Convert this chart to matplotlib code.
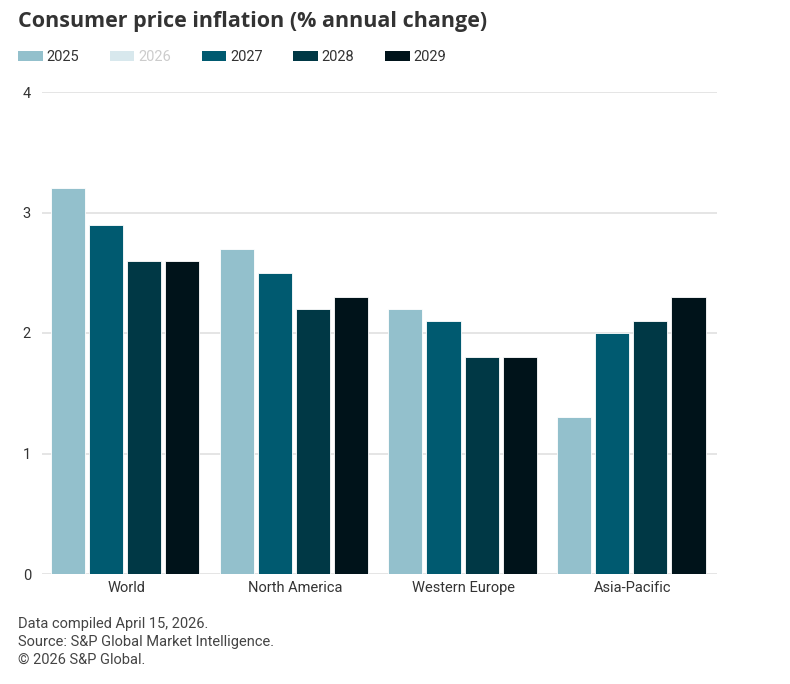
import matplotlib.pyplot as plt
import numpy as np
from matplotlib.patches import Patch

plt.rcParams['font.family'] = ['Roboto', 'DejaVu Sans']

# data
regions = ['World', 'North America', 'Western Europe', 'Asia-Pacific']
years = ['2025', '2026', '2027', '2028', '2029']
v2025 = [3.2, 2.7, 2.2, 1.3]
v2027 = [2.9, 2.5, 2.1, 2.0]
v2028 = [2.6, 2.2, 1.8, 2.1]
v2029 = [2.6, 2.3, 1.8, 2.3]
colors = ['#93c0cc', '#d8e8ed', '#005a70', '#003845', '#00131a']

shown = [(v2025, colors[0]), (v2027, colors[2]), (v2028, colors[3]), (v2029, colors[4])]

fig = plt.figure(figsize=(7.9, 6.84), dpi=100)
ax = fig.add_axes([42 / 790, 1 - 574 / 684, 675 / 790, 482 / 684])

x = np.arange(len(regions))
step = 0.226
for i, (vals, c) in enumerate(shown):
    ax.bar(x + (i - 1.5) * step - 0.008, vals, width=0.202, color=c,
           edgecolor='white', linewidth=0.6, zorder=3)

ax.set_xlim(-0.5, 3.5)
ax.set_ylim(0, 4)
ax.set_yticks([0, 1, 2, 3, 4])
ax.set_xticks(x)
ax.set_xticklabels(regions)
ax.grid(axis='y', color='#e0e0e0', linewidth=1.2, zorder=0)
for s in ax.spines.values():
    s.set_visible(False)
ax.tick_params(axis='both', length=0, labelsize=10.5, colors='#333333')
ax.tick_params(axis='y', pad=8)
ax.tick_params(axis='x', pad=5)

fig.text(18 / 790, 1 - 21 / 684, 'Consumer price inflation (% annual change)',
         fontsize=15.5, fontweight='bold', color='#333333', va='center',
         family=['Open Sans', 'DejaVu Sans'])

# legend
handles = [Patch(facecolor=c, edgecolor='none') for c in colors]
leg = fig.legend(handles, years, ncol=5, loc='center left',
                 bbox_to_anchor=(18 / 790, 1 - 57 / 684), frameon=False,
                 fontsize=10.5, handlelength=1.7, handleheight=0.75,
                 handletextpad=0.25, columnspacing=2.1, borderpad=0,
                 borderaxespad=0)
for i, t in enumerate(leg.get_texts()):
    t.set_color('#cccccc' if i == 1 else '#333333')

footer = ['Data compiled April 15, 2026.',
          'Source: S&P Global Market Intelligence.',
          '\u00a9 2026 S&P Global.']
for i, line in enumerate(footer):
    fig.text(18 / 790, 1 - (624 + 18 * i) / 684, line, fontsize=10.5,
             color='#444444', va='center')

plt.savefig('out.png', dpi=100)
